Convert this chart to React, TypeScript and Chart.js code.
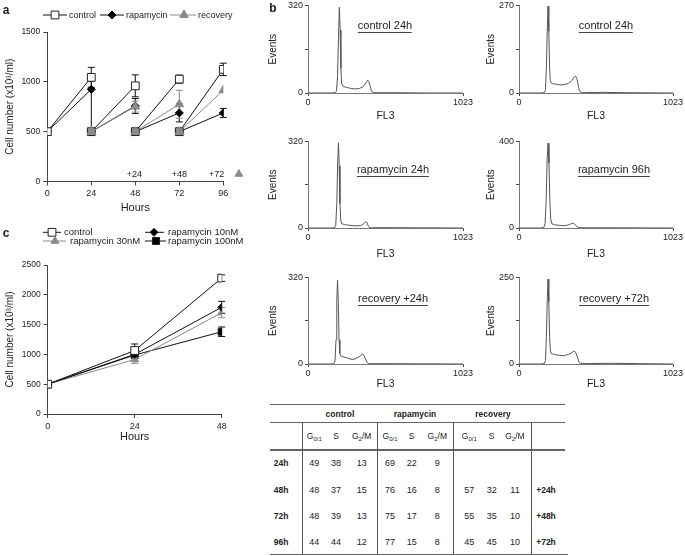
import React, { useEffect, useRef } from "react";
import { Chart, registerables } from "chart.js";
Chart.register(...registerables);

const FONT = "Arial, 'Liberation Sans', Helvetica, sans-serif";

// ---------- Panel a : cell number, treatment / recovery ----------
const hoursA = [0, 24, 48, 72, 96];
const controlA = [500, 1045, 960, 1027, 1125];
const controlErrA = [0, 100, 110, 40, 62];
const rapamycinA = [500, 925, 758, 688, 688];
const rapamycinErrLowA = [0, 425, 75, 90, 45];
const rapamycinErrHighA = [0, 80, 75, 90, 45];
const recoveryA = [null, null, 752, 775, 916];
const recoveryErrA = [0, 0, 55, 140, 0];
const restartValueA = 500;
const xTicksA = [0, 24, 48, 72, 96];
const yTicksA = [0, 500, 1000, 1500];
const recoveryTagLabelsA = ["+24", "+48", "+72"];
const recoveryTagHoursA = [47.5, 72, 92.4];
const recoveryTagLevelA = 75;
const recoveryMarkerHourA = 104.5;

// ---------- Panel c : dose response ----------
const hoursC = [0, 24, 48];
const xTicksC = [0, 24, 48];
const yTicksC = [0, 500, 1000, 1500, 2000, 2500];
const controlC = [500, 1065, 2280];
const controlErrC = [0, 110, 55];
const rapa10C = [500, 1000, 1790];
const rapa10ErrC = [0, 45, 100];
const rapa30C = [500, 915, 1700];
const rapa30ErrC = [0, 65, 85];
const rapa100C = [500, 990, 1380];
const rapa100ErrC = [0, 45, 80];

// ---------- Panel b : DNA content histograms [FL3 channel, events] ----------
const histControl24A = [[0,0],[150,0],[180,1],[188,8],[195,60],[201,200],[207,313],[212,230],[217,90],[222,35],[230,25],[245,22],[265,19],[290,16],[315,15],[340,17],[360,22],[375,30],[388,42],[394,47],[401,42],[409,28],[417,10],[425,3],[440,1],[600,1],[800,0],[1023,0]];
const histControl24B = [[0,0],[140,0],[168,1],[176,10],[182,80],[188,200],[193,268],[198,190],[203,80],[208,38],[215,30],[230,28],[250,27],[270,25],[290,25],[310,27],[330,30],[350,38],[365,48],[376,52],[384,45],[392,28],[400,10],[408,3],[420,1],[550,2],[700,1],[1023,0]];
const histRapamycin24 = [[0,0],[150,0],[175,1],[183,10],[190,90],[196,240],[201,315],[206,230],[211,90],[216,30],[222,16],[240,13],[260,11],[290,9],[320,8],[345,9],[362,13],[375,20],[384,24],[390,20],[397,8],[405,2],[420,1],[600,1],[1023,0]];
const histRapamycin96 = [[0,0],[140,0],[165,2],[173,20],[180,120],[187,320],[193,392],[199,300],[205,120],[211,40],[218,20],[235,15],[260,13],[290,11],[315,12],[335,16],[350,21],[360,22],[370,18],[380,10],[388,4],[400,2],[420,1],[600,1],[1023,0]];
const histRecovery24 = [[0,0],[145,0],[170,1],[178,10],[185,90],[190,230],[195,310],[200,230],[205,90],[210,40],[216,30],[230,27],[250,24],[270,20],[290,17],[310,19],[330,24],[345,30],[355,35],[362,37],[370,30],[380,18],[390,6],[398,2],[420,1],[600,1],[1023,0]];
const histRecovery72 = [[0,0],[140,0],[168,1],[176,10],[182,80],[188,190],[193,245],[198,180],[203,80],[208,40],[214,30],[230,28],[250,26],[270,25],[290,24],[310,25],[330,28],[348,32],[360,36],[369,37],[378,32],[388,20],[398,6],[406,2],[420,1],[600,2],[800,1],[1023,0]];
const histTitles = ["control 24h", "control 24h", "rapamycin 24h", "rapamycin 96h", "recovery +24h", "recovery +72h"];
const histMaxima = [320, 270, 320, 400, 320, 250];
const histSeries = [histControl24A, histControl24B, histRapamycin24, histRapamycin96, histRecovery24, histRecovery72];

// ---------- Table ----------
const tableGroups = ["control", "rapamycin", "recovery"];
const tableTimes = ["24h", "48h", "72h", "96h"];
const tableControl = [[49, 38, 13], [48, 37, 15], [48, 39, 13], [44, 44, 12]];
const tableRapamycin = [[69, 22, 9], [76, 16, 8], [75, 17, 8], [77, 15, 8]];
const tableRecovery = [null, [57, 32, 11], [55, 35, 10], [45, 45, 10]];
const tableRecoveryTimes = ["", "+24h", "+48h", "+72h"];
const phaseLabels = [["G", "0/1", ""], ["S", "", ""], ["G", "2", "/M"]];

// ---------- helpers ----------
function drawMarker(ctx: any, style: string, x: number, y: number, r: number, fill: string, stroke: string) {
  ctx.save();
  ctx.beginPath();
  if (style === "rect") {
    const s = r * Math.SQRT1_2;
    ctx.rect(x - s, y - s, 2 * s, 2 * s);
  } else if (style === "rectRot") {
    ctx.moveTo(x - r, y); ctx.lineTo(x, y - r); ctx.lineTo(x + r, y); ctx.lineTo(x, y + r); ctx.closePath();
  } else if (style === "triangle") {
    const a = Math.sin(Math.PI / 3) * r;
    ctx.moveTo(x, y - r); ctx.lineTo(x + a, y + r / 2); ctx.lineTo(x - a, y + r / 2); ctx.closePath();
  }
  ctx.fillStyle = fill; ctx.fill();
  ctx.lineWidth = 1; ctx.strokeStyle = stroke; ctx.stroke();
  ctx.restore();
}

function segments(hours: number[], vals: (number | null)[], lo: number[], hi: number[]) {
  const pts: any[] = [], elo: number[] = [], ehi: number[] = [];
  for (let i = 1; i < hours.length; i++) {
    const v = vals[i];
    if (v == null) continue;
    const startY = i === 1 ? (vals[0] as number) : restartValueA;
    if (pts.length) { pts.push({ x: hours[i - 1], y: null }); elo.push(0); ehi.push(0); }
    pts.push({ x: hours[i - 1], y: startY, restart: i > 1 }); elo.push(0); ehi.push(0);
    pts.push({ x: hours[i], y: v }); elo.push(lo[i]); ehi.push(hi[i]);
  }
  return { pts, elo, ehi };
}

const errorBarPlugin = {
  id: "errbars",
  beforeDatasetsDraw(chart: any) {
    const ctx = chart.ctx;
    const xs = chart.scales.x, ys = chart.scales.y;
    chart.data.datasets.forEach((ds: any) => {
      if (!ds.errLow) return;
      ds.data.forEach((p: any, i: number) => {
        if (p.y == null) return;
        const l = ds.errLow[i] || 0, h = ds.errHigh[i] || 0;
        if (!l && !h) return;
        const x = xs.getPixelForValue(p.x);
        const y1 = ys.getPixelForValue(p.y - l), y2 = ys.getPixelForValue(p.y + h);
        ctx.save();
        ctx.strokeStyle = ds.borderColor; ctx.lineWidth = 1;
        ctx.beginPath();
        ctx.moveTo(x, y1); ctx.lineTo(x, y2);
        ctx.moveTo(x - 3.5, y1); ctx.lineTo(x + 3.5, y1);
        ctx.moveTo(x - 3.5, y2); ctx.lineTo(x + 3.5, y2);
        ctx.stroke();
        ctx.restore();
      });
    });
  },
};

function legendPlugin(items: { x1: number; x2: number; mx: number; tx: number; y: number }[], size: number) {
  return {
    id: "customLegend",
    afterDraw(chart: any) {
      const ctx = chart.ctx;
      chart.data.datasets.forEach((ds: any, i: number) => {
        const it = items[i];
        if (!it) return;
        ctx.save();
        ctx.strokeStyle = ds.borderColor; ctx.lineWidth = 1;
        ctx.beginPath(); ctx.moveTo(it.x1, it.y); ctx.lineTo(it.x2, it.y); ctx.stroke();
        drawMarker(ctx, ds.pointStyle, it.mx, it.y, ds.pointRadius, ds.legendFill, ds.pointBorderColor);
        ctx.fillStyle = "#222"; ctx.font = `${size}px ${FONT}`;
        ctx.textAlign = "left"; ctx.textBaseline = "middle";
        ctx.fillText(ds.label, it.tx, it.y + 0.5);
        ctx.restore();
      });
    },
  };
}

const tagPlugin = {
  id: "tags",
  afterDraw(chart: any) {
    const { ctx, scales } = chart;
    ctx.save();
    ctx.font = `9px ${FONT}`; ctx.fillStyle = "#222"; ctx.textAlign = "center"; ctx.textBaseline = "middle";
    const yy = scales.y.getPixelForValue(recoveryTagLevelA);
    recoveryTagLabelsA.forEach((t, i) => ctx.fillText(t, scales.x.getPixelForValue(recoveryTagHoursA[i]), yy));
    drawMarker(ctx, "triangle", scales.x.getPixelForValue(recoveryMarkerHourA), yy, 4.5, "#8a8a8a", "#8a8a8a");
    ctx.restore();
  },
};

function axisCommon(ticks: number[], fixed: (s: any) => void, fontSize: number, pad: number, tl: number) {
  return {
    type: "linear" as const,
    afterBuildTicks: (s: any) => { s.ticks = ticks.map((v) => ({ value: v })); },
    afterFit: fixed,
    grid: { display: true, drawOnChartArea: false, drawTicks: true, tickLength: tl, color: "#444" },
    border: { display: true, color: "#444", width: 1 },
    ticks: { font: { family: FONT, size: fontSize }, color: "#222", padding: pad, maxRotation: 0, autoSkip: false,
      callback: (v: any) => String(v) },
  };
}

function makePanelA() {
  const c = segments(hoursA, controlA, controlErrA, controlErrA);
  const r = segments(hoursA, rapamycinA, rapamycinErrLowA, rapamycinErrHighA);
  const v = segments(hoursA, recoveryA, recoveryErrA, recoveryErrA);
  return {
    type: "line",
    data: {
      datasets: [
        { label: "control", data: c.pts, errLow: c.elo, errHigh: c.ehi, borderColor: "#111", borderWidth: 1,
          pointStyle: "rect", pointRadius: 5.5, legendFill: "#fff",
          pointBackgroundColor: (ctx: any) => (ctx.raw && ctx.raw.restart ? "#9a9a9a" : "#fff"),
          pointBorderColor: "#222", pointBorderWidth: 1, order: 1 },
        { label: "rapamycin", data: r.pts, errLow: r.elo, errHigh: r.ehi, borderColor: "#111", borderWidth: 1,
          pointStyle: "rectRot", pointRadius: 4, legendFill: "#000", pointBackgroundColor: "#000",
          pointBorderColor: "#000", pointBorderWidth: 1, order: 2 },
        { label: "recovery", data: v.pts, errLow: v.elo, errHigh: v.ehi, borderColor: "#8a8a8a", borderWidth: 1,
          pointStyle: "triangle", pointRadius: 5, legendFill: "#8a8a8a", pointBackgroundColor: "#8a8a8a",
          pointBorderColor: "#8a8a8a", pointBorderWidth: 1, order: 0 },
      ],
    },
    options: {
      animation: false, responsive: false, devicePixelRatio: 1,
      layout: { padding: { top: 32, left: 0, right: 26.7, bottom: 0 } },
      plugins: { legend: { display: false }, tooltip: { enabled: false } },
      elements: { line: { tension: 0 } },
      scales: {
        x: { ...axisCommon(xTicksA, (s: any) => { s.height = 33.5; }, 9, 3, 4), min: 0, max: 96,
          title: { display: true, text: "Hours", font: { family: FONT, size: 11 }, color: "#222", padding: 0 } },
        y: { ...axisCommon(yTicksA, (s: any) => { s.width = 47.3; }, 8.5, 3, 4), min: 0, max: 1500,
          title: { display: true, text: "Cell number (x10³/ml)", font: { family: FONT, size: 10 }, color: "#222", padding: { top: 4, bottom: 0 } } },
      },
    },
    plugins: [errorBarPlugin, tagPlugin,
      legendPlugin([
        { x1: 43, x2: 67, mx: 55, tx: 69, y: 15 },
        { x1: 100, x2: 124, mx: 112, tx: 126, y: 15 },
        { x1: 170, x2: 196, mx: 184, tx: 198, y: 15 },
      ], 9)],
  };
}

function makePanelC() {
  const mk = (label: string, vals: number[], err: number[], color: string, style: string, r: number, fill: string) => ({
    label, data: hoursC.map((h, i) => ({ x: h, y: vals[i] })), errLow: err, errHigh: err,
    borderColor: color, borderWidth: 1, pointStyle: style, pointRadius: r, legendFill: fill,
    pointBackgroundColor: fill, pointBorderColor: color === "#111" ? "#222" : color, pointBorderWidth: 1,
  });
  return {
    type: "line",
    data: {
      datasets: [
        mk("control", controlC, controlErrC, "#111", "rect", 5.5, "#fff"),
        mk("rapamycin 10nM", rapa10C, rapa10ErrC, "#111", "rectRot", 4, "#000"),
        mk("rapamycin 30nM", rapa30C, rapa30ErrC, "#8a8a8a", "triangle", 4.5, "#8a8a8a"),
        mk("rapamycin 100nM", rapa100C, rapa100ErrC, "#111", "rect", 5, "#000"),
      ],
    },
    options: {
      animation: false, responsive: false, devicePixelRatio: 1,
      layout: { padding: { top: 45, left: 0, right: 28.3, bottom: 0 } },
      plugins: { legend: { display: false }, tooltip: { enabled: false } },
      scales: {
        x: { ...axisCommon(xTicksC, (s: any) => { s.height = 30; }, 9, 3, 4), min: 0, max: 48,
          title: { display: true, text: "Hours", font: { family: FONT, size: 11 }, color: "#222", padding: 0 } },
        y: { ...axisCommon(yTicksC, (s: any) => { s.width = 47.7; }, 8.5, 3, 4), min: 0, max: 2500,
          title: { display: true, text: "Cell number (x10³/ml)", font: { family: FONT, size: 10 }, color: "#222", padding: { top: 4, bottom: 0 } } },
      },
    },
    plugins: [errorBarPlugin,
      legendPlugin([
        { x1: 43, x2: 61, mx: 52, tx: 64, y: 12.3 },
        { x1: 145, x2: 164, mx: 154, tx: 168, y: 12.3 },
        { x1: 43, x2: 66, mx: 55, tx: 70, y: 21 },
        { x1: 145, x2: 166, mx: 156, tx: 168, y: 21 },
      ], 9.5)],
  };
}

// layout of histogram grid
const histCols = [{ left: 260, chartW: 155, padR: 14, titlePad: 7.3, titleX: 385 }, { left: 471, chartW: 154, padR: 12, titlePad: 14.7, titleX: 606 }];
const histRows = [{ top: 4, h: 89, axisH: 29, titleY: 25 }, { top: 140, h: 88, axisH: 32, titleY: 169 }, { top: 276, h: 88, axisH: 26, titleY: 298 }];

function makeHist(idx: number) {
  const col = histCols[idx % 2], row = histRows[Math.floor(idx / 2)];
  const max = histMaxima[idx];
  return {
    type: "line",
    data: { datasets: [{ data: histSeries[idx].map(([x, y]) => ({ x, y })), borderColor: "#555", borderWidth: 1, pointRadius: 0, tension: 0 }] },
    options: {
      animation: false, responsive: false, devicePixelRatio: 1,
      layout: { padding: { top: 6, left: 0, right: col.padR, bottom: 0 } },
      plugins: { legend: { display: false }, tooltip: { enabled: false } },
      scales: {
        x: { ...axisCommon([0, 1023], (s: any) => { s.height = row.axisH; }, 9, 1, 3), min: 0, max: 1023,
          border: { display: true, color: "#777", width: 1 },
          title: { display: true, text: "FL3", font: { family: FONT, size: 10.5 }, color: "#222", padding: 0 } },
        y: { ...axisCommon([0, max / 2, max], (s: any) => { s.width = 48; }, 9, 2, 3), min: 0, max,
          border: { display: true, color: "#777", width: 1 },
          ticks: { font: { family: FONT, size: 9 }, color: "#222", padding: 2, autoSkip: false,
            callback: (v: any) => (v === 0 || v === max ? String(v) : "") },
          title: { display: true, text: "Events", font: { family: FONT, size: 10 }, color: "#222", padding: { top: col.titlePad, bottom: 0 } } },
      },
    },
  };
}

function ChartBox({ left, top, width, height, make }: any) {
  const ref = useRef<HTMLCanvasElement>(null);
  useEffect(() => {
    const chart = new Chart(ref.current as HTMLCanvasElement, make());
    return () => chart.destroy();
  }, []);
  return <canvas ref={ref} width={width} height={height} style={{ position: "absolute", left, top, width, height }} />;
}

const txt = (extra: any) => ({ position: "absolute" as const, fontFamily: FONT, color: "#222", whiteSpace: "nowrap" as const, transform: "translate(-50%,-50%)", lineHeight: 1, ...extra });

function Phase({ p }: { p: string[] }) {
  return <span>{p[0]}{p[1] ? <span style={{ fontSize: 6, position: "relative", top: 2 }}>{p[1]}</span> : null}{p[2]}</span>;
}

function Table() {
  const groupX = [340, 415, 493];
  const colX = [[314.3, 336, 361.7], [390, 411.7, 437.3], [469.3, 491.7, 515]];
  const rowY = [462.7, 490, 516, 541.7];
  const hLine = (y: number, x1: number, x2: number, key: string) => (
    <div key={key} style={{ position: "absolute", left: x1, top: y - 0.75, width: x2 - x1, height: 1.5, background: "#666" }} />
  );
  const vLine = (x: number, key: string) => (
    <div key={key} style={{ position: "absolute", left: x - 0.5, top: 422.7, width: 1, height: 554.3 - 422.7, background: "#555" }} />
  );
  const tables = [tableControl, tableRapamycin, tableRecovery];
  const cells: any[] = [];
  tableGroups.forEach((g, gi) => cells.push(<div key={"g" + gi} style={txt({ left: groupX[gi], top: 414, fontSize: 8.5, fontWeight: "bold" })}>{g}</div>));
  colX.forEach((cols, gi) => cols.forEach((x, pi) => cells.push(
    <div key={`p${gi}${pi}`} style={txt({ left: x, top: 436, fontSize: 8.5 })}><Phase p={phaseLabels[pi]} /></div>)));
  tableTimes.forEach((t, ri) => {
    cells.push(<div key={"t" + ri} style={txt({ left: 281, top: rowY[ri], fontSize: 8.5, fontWeight: "bold" })}>{t}</div>);
    tables.forEach((tb, gi) => {
      const row = tb[ri];
      if (!row) return;
      row.forEach((v, pi) => cells.push(<div key={`v${ri}${gi}${pi}`} style={txt({ left: colX[gi][pi], top: rowY[ri], fontSize: 9 })}>{v}</div>));
    });
    if (tableRecoveryTimes[ri]) cells.push(<div key={"r" + ri} style={txt({ left: 546, top: rowY[ri], fontSize: 8.5, fontWeight: "bold" })}>{tableRecoveryTimes[ri]}</div>);
  });
  return (
    <>
      {hLine(404.7, 270, 565, "h1")}
      {hLine(422.7, 270, 565, "h2")}
      {hLine(450, 270, 565, "h3")}
      {hLine(554.3, 270, 568, "h4")}
      {[302.3, 377.7, 453.3, 531.7].map((x, i) => vLine(x, "v" + i))}
      {cells}
    </>
  );
}

export default function App() {
  useEffect(() => { document.body.style.margin = "0"; }, []);
  return (
    <div style={{ position: "absolute", left: 0, top: 0, width: 685, height: 556, background: "#fff", overflow: "hidden" }}>
      <ChartBox left={0} top={0} width={250} height={215} make={makePanelA} />
      <ChartBox left={0} top={220} width={250} height={224} make={makePanelC} />
      {histSeries.map((_, i) => {
        const col = histCols[i % 2], row = histRows[Math.floor(i / 2)];
        return <ChartBox key={i} left={col.left} top={row.top - 6} width={48 + col.chartW + col.padR} height={6 + row.h + row.axisH} make={() => makeHist(i)} />;
      })}
      {histTitles.map((t, i) => {
        const col = histCols[i % 2], row = histRows[Math.floor(i / 2)];
        return (
          <div key={"ht" + i} style={{ position: "absolute", left: col.titleX + (i >= 2 ? 8 : 0), top: row.titleY - 5.5, transform: "translateX(-50%)",
            fontFamily: FONT, fontSize: 11, lineHeight: "11px", color: "#222", whiteSpace: "nowrap", borderBottom: "1px solid #444", paddingBottom: 1 }}>{t}</div>
        );
      })}
      <div style={txt({ left: 6, top: 10, fontSize: 12, fontWeight: "bold" })}>a</div>
      <div style={txt({ left: 273, top: 8, fontSize: 12, fontWeight: "bold" })}>b</div>
      <div style={txt({ left: 6, top: 233, fontSize: 12, fontWeight: "bold" })}>c</div>
      <Table />
    </div>
  );
}
